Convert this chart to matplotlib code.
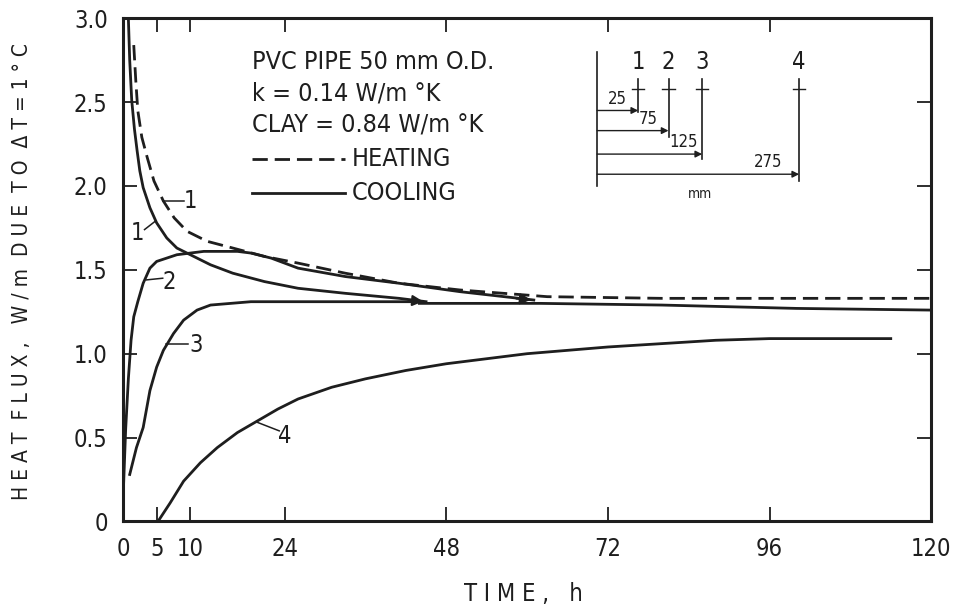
import matplotlib.pyplot as plt
from matplotlib import font_manager

# Heat flux curves (time in h, flux in W/m per 1 deg C)
heat_t = [1.6, 1.9, 2.2, 2.8, 3.6, 4.6, 6.0, 7.6, 9.5, 12.5, 16.3, 21, 26, 33, 41, 50, 63, 80, 100, 120]
heat_q = [2.84, 2.63, 2.45, 2.29, 2.17, 2.03, 1.91, 1.81, 1.73, 1.67, 1.63, 1.58, 1.54, 1.48, 1.42, 1.38, 1.34, 1.33, 1.33, 1.33]

cool1_t = [0.8, 1.0, 1.3, 1.7, 2.1, 2.5, 3.0, 4.0, 5.0, 6.5, 8.0, 10, 13, 16.3, 21, 26, 33, 41, 45]
cool1_q = [3.0, 2.75, 2.51, 2.34, 2.21, 2.09, 1.99, 1.87, 1.78, 1.69, 1.63, 1.59, 1.53, 1.48, 1.43, 1.39, 1.36, 1.33, 1.31]

cool2_t = [0.1, 0.4, 0.8, 1.2, 1.6, 2.2, 3.0, 4.0, 5.0, 6.5, 8.0, 10, 12, 14, 17, 19, 22, 26, 33, 41, 50, 61]
cool2_q = [0.23, 0.55, 0.85, 1.08, 1.22, 1.31, 1.42, 1.51, 1.55, 1.57, 1.59, 1.60, 1.61, 1.61, 1.61, 1.60, 1.57, 1.51, 1.46, 1.42, 1.37, 1.32]

cool3_t = [1.0, 1.5, 2.0, 3.0, 4.0, 5.0, 6.0, 7.5, 9.0, 11, 13, 16, 19, 25, 35, 44]
cool3_q = [0.28, 0.36, 0.44, 0.56, 0.78, 0.92, 1.02, 1.12, 1.20, 1.26, 1.29, 1.30, 1.31, 1.31, 1.31, 1.31]

tail_t = [44, 50, 62, 80, 100, 120]
tail_q = [1.30, 1.30, 1.30, 1.29, 1.27, 1.26]

cool4_t = [5.2, 7.0, 9.0, 11.5, 14, 17, 20, 23, 26, 31, 36, 42, 48, 54, 60, 66, 72, 80, 88, 96, 104, 114]
cool4_q = [0.0, 0.11, 0.24, 0.35, 0.44, 0.53, 0.60, 0.67, 0.73, 0.80, 0.85, 0.90, 0.94, 0.97, 1.00, 1.02, 1.04, 1.06, 1.08, 1.09, 1.09, 1.09]

x_ticks = [0, 5, 10, 24, 48, 72, 96, 120]
y_ticks = [0, 0.5, 1.0, 1.5, 2.0, 2.5, 3.0]
y_tick_labels = ["0", "0.5", "1.0", "1.5", "2.0", "2.5", "3.0"]

legend_lines = ["PVC PIPE 50 mm O.D.", "k = 0.14 W/m \u00b0K", "CLAY = 0.84 W/m \u00b0K"]

# Curve labels: text, label position, leader start, leader end
curve_names = ["1", "1", "2", "3", "4"]
curve_name_pos = [(10.0, 1.91), (2.2, 1.72), (6.9, 1.43), (10.9, 1.05), (24.0, 0.51)]
leader_from = [(6.0, 1.91), (4.8, 1.79), (3.5, 1.44), (6.4, 1.06), (20.0, 0.59)]
leader_to = [(9.0, 1.91), (3.2, 1.74), (5.9, 1.45), (9.6, 1.06), (23.2, 0.54)]

# Inset sketch of the probe positions (numbers and distances in mm)
probe_names = ["1", "2", "3", "4"]
probe_dist = ["25", "75", "125", "275"]
probe_x = [76.5, 81.0, 86.0, 100.4]
probe_bottom = [2.44, 2.29, 2.16, 2.03]
arrow_y = [2.45, 2.33, 2.19, 2.07]
dist_label_x = [73.4, 78.0, 83.2, 95.8]

# Prefer a condensed face when one is installed
condensed = "Condensed" in font_manager.findfont(
    font_manager.FontProperties(family="DejaVu Sans", stretch="condensed"))
if condensed:
    plt.rcParams["font.stretch"] = "condensed"
plt.rcParams["font.family"] = ["DejaVu Sans"]
big = 18 if condensed else 16

ink = "#1e1e1e"

fig = plt.figure(figsize=(9.57, 6.12), dpi=100)
ax = fig.add_axes([0.1285, 0.148, 0.8445, 0.8222])

ax.plot(heat_t, heat_q, color=ink, lw=2.0, ls=(0, (5.5, 2.5)))
for t, q in [(cool1_t, cool1_q), (cool2_t, cool2_q), (cool3_t, cool3_q),
             (tail_t, tail_q), (cool4_t, cool4_q)]:
    ax.plot(t, q, color=ink, lw=2.0)

# Arrow heads where the cooling curves merge
for t, q in [(cool1_t, cool1_q), (cool2_t, cool2_q)]:
    ax.annotate("", xy=(t[-1], q[-1]), xytext=(t[-1] - 3, q[-1] + 0.01),
                arrowprops=dict(arrowstyle="-|>", color=ink, lw=1.5,
                                mutation_scale=16))

# Curve labels with leader lines
for name, pos, p0, p1 in zip(curve_names, curve_name_pos, leader_from, leader_to):
    ax.plot([p0[0], p1[0]], [p0[1], p1[1]], color=ink, lw=1.1)
    ax.text(pos[0], pos[1], name, fontsize=big - 1, color=ink,
            ha="center", va="center")

# Legend block
for i, line in enumerate(legend_lines):
    ax.text(19.2, 2.74 - i * 0.19, line, fontsize=big, color=ink, va="center")
ax.plot([19.2, 33.0], [2.16, 2.16], color=ink, lw=2.0, ls=(0, (5.5, 2.5)))
ax.text(34.0, 2.16, "HEATING", fontsize=big, color=ink, va="center")
ax.plot([19.2, 33.0], [1.96, 1.96], color=ink, lw=2.0)
ax.text(34.0, 1.96, "COOLING", fontsize=big, color=ink, va="center")

# Inset sketch
ax.plot([70.4, 70.4], [2.80, 2.00], color=ink, lw=1.2)
for name, dist, px, pb, ay, lx in zip(probe_names, probe_dist, probe_x,
                                      probe_bottom, arrow_y, dist_label_x):
    ax.text(px, 2.74, name, fontsize=big - 1, color=ink, ha="center", va="center")
    ax.plot([px, px], [2.64, pb], color=ink, lw=1.2)
    ax.plot([px - 0.9, px + 0.9], [2.58, 2.58], color=ink, lw=1.0)
    ax.annotate("", xy=(px, ay), xytext=(70.4, ay),
                arrowprops=dict(arrowstyle="-|>", color=ink, lw=1.0,
                                mutation_scale=10, shrinkA=0, shrinkB=0))
    ax.text(lx, ay + 0.07, dist, fontsize=12, color=ink, ha="center",
            va="center")
ax.text(85.7, 1.95, "mm", fontsize=10, color=ink, ha="center", va="center")

ax.set_xlim(0, 120)
ax.set_ylim(0, 3.0)
ax.set_xticks(x_ticks)
ax.set_yticks(y_ticks)
ax.set_yticklabels(y_tick_labels)
ax.tick_params(direction="in", length=10, width=1.3, colors=ink,
               labelsize=big - 1, top=True, right=True, pad=11)
for spine in ax.spines.values():
    spine.set_linewidth(2.2)
    spine.set_color(ink)

ax.set_xlabel("T I M E ,   h", fontsize=big - 1, color=ink)
ax.xaxis.set_label_coords(0.495, -0.12)
ax.set_ylabel("H E A T  F L U X ,   W / m  D U E  T O  \u0394 T = 1 \u00b0 C",
              fontsize=big - 3, color=ink)
ax.yaxis.set_label_coords(-0.113, 0.496)

plt.savefig("out.png", dpi=100)
